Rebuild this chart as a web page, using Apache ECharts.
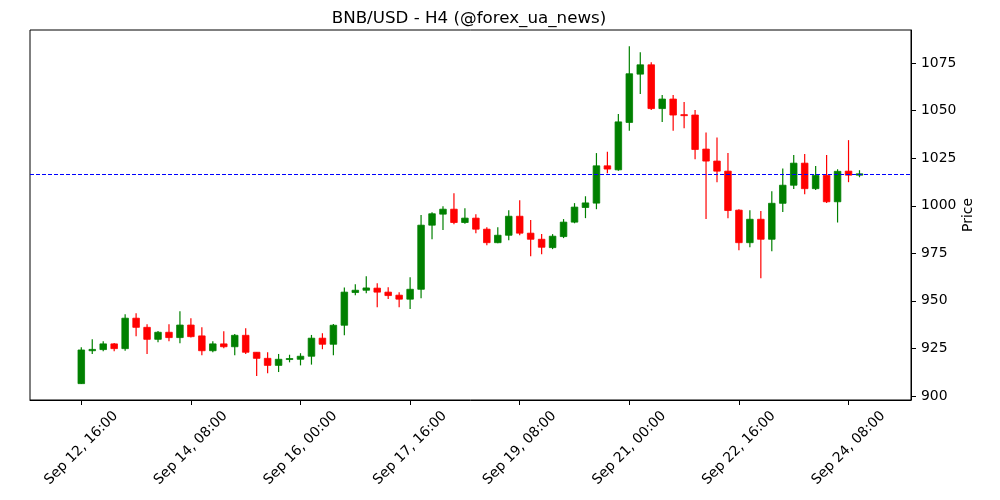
<!DOCTYPE html>
<html>
<head>
<meta charset="utf-8">
<script src="https://cdn.jsdelivr.net/npm/echarts@6/dist/echarts.min.js"></script>
<style>html,body{margin:0;padding:0;background:#fff}#c{width:1000px;height:500px}</style>
</head>
<body>
<div id="c"></div>
<script>
// candle index 0 = Sep 12 16:00, step 4h
const openP  = [906.5,923.8,924.4,927.4,924.9,940.9,936.1,929.8,933.5,930.7,937.3,931.6,923.8,927.4,925.9,931.9,923.0,919.8,916.1,919.3,919.3,920.9,930.4,927.2,937.2,954.4,955.6,956.7,954.6,953.0,950.9,956.1,989.8,995.6,998.2,991.2,993.5,987.7,980.6,984.5,994.5,985.6,982.4,978.0,983.8,991.4,999.1,1001.4,1021.0,1018.9,1043.8,1069.2,1074.1,1051.1,1056.1,1047.9,1047.7,1029.8,1023.5,1018.2,997.7,980.6,992.9,982.4,1001.3,1010.8,1022.4,1009.0,1016.0,1002.1,1018.2,1016.1];
const highP  = [925.6,929.8,928.8,927.9,943.0,943.5,937.7,934.2,937.7,944.6,940.9,936.1,928.8,934.0,932.6,935.6,923.0,923.0,922.1,921.7,922.5,932.1,933.0,937.9,957.0,958.8,963.0,959.3,957.2,954.6,962.4,995.1,996.6,999.8,1006.6,998.7,995.6,988.7,988.7,997.7,1002.9,992.5,985.1,985.1,993.0,1001.4,1005.0,1027.7,1028.4,1048.3,1083.9,1080.7,1075.5,1058.2,1058.2,1054.6,1050.3,1038.5,1035.9,1027.7,998.2,997.7,997.2,1007.7,1019.6,1026.7,1027.2,1020.9,1026.7,1019.2,1034.5,1018.7];
const lowP   = [906.3,922.1,923.5,923.5,923.8,931.4,922.1,928.2,928.8,927.7,930.7,921.4,923.0,925.1,921.4,922.1,910.5,911.9,912.6,917.7,916.1,916.5,924.6,921.4,931.9,953.0,954.0,946.7,951.0,946.7,945.8,951.4,982.4,987.2,990.3,990.6,985.6,979.3,980.3,981.9,984.5,973.5,974.5,977.2,983.0,990.8,993.5,998.2,1017.1,1018.4,1039.4,1058.8,1050.3,1044.0,1039.4,1040.8,1024.5,993.0,1012.4,993.5,976.6,978.2,961.9,976.1,996.7,1008.8,1006.1,1008.3,1001.4,991.2,1012.4,1015.0];
const closeP = [924.2,924.5,927.4,924.9,940.9,936.1,929.8,933.5,930.7,937.3,931.2,923.8,927.4,925.9,931.9,923.0,919.8,916.1,919.3,919.7,920.9,930.4,927.2,937.2,954.6,955.6,956.8,954.6,952.8,950.9,956.1,989.8,995.8,998.2,991.2,993.5,987.7,980.6,984.5,994.5,985.6,982.4,978.2,984.0,991.4,999.3,1001.5,1021.0,1019.3,1044.1,1069.4,1074.1,1051.1,1056.1,1047.7,1047.5,1029.6,1023.5,1018.2,997.5,980.6,992.9,982.4,1001.3,1010.8,1022.4,1009.0,1016.0,1002.1,1018.1,1016.1,1016.8];
const xTickIdx = [0,10,20,30,40,50,60,70];
const xTickLabels = ['Sep 12, 16:00','Sep 14, 08:00','Sep 16, 00:00','Sep 17, 16:00','Sep 19, 08:00','Sep 21, 00:00','Sep 22, 16:00','Sep 24, 08:00'];
const yTicks = [900,925,950,975,1000,1025,1050,1075];
const currentPrice = 1016.8;

const data = openP.map((o,i)=>[i,o,highP[i],lowP[i],closeP[i]]);
const FONT = 'DejaVu Sans';
const chart = echarts.init(document.getElementById('c'), null, {renderer:'canvas'});
chart.setOption({
  animation:false,
  backgroundColor:'#fff',
  title:{text:'BNB/USD - H4 (@forex_ua_news)',left:464,top:5,textAlign:'center',
    textStyle:{fontFamily:FONT,fontSize:16.7,fontWeight:'normal',color:'#000'}},
  grid:{left:30,right:89,top:30,bottom:100,show:true,borderColor:'#000',borderWidth:1,backgroundColor:'transparent'},
  xAxis:{type:'value',min:-4.68,max:75.7,
    axisLine:{show:true,onZero:false,lineStyle:{color:'#000'}},
    axisTick:{show:true,length:5,customValues:xTickIdx,lineStyle:{color:'#000'}},
    axisLabel:{customValues:xTickIdx,rotate:45,align:'center',verticalAlign:'middle',margin:48,
      fontFamily:FONT,fontSize:13.9,color:'#000',
      formatter:v=>{const k=xTickIdx.indexOf(Math.round(v));return k>=0?xTickLabels[k]:'';}},
    splitLine:{show:false}},
  yAxis:{type:'value',position:'right',min:897.9,max:1092.4,scale:true,
    name:'Price',nameLocation:'middle',nameGap:50,nameRotate:90,nameMoveOverlap:false,
    nameTextStyle:{fontFamily:FONT,fontSize:13.9,color:'#000'},
    axisLine:{show:true,onZero:false,lineStyle:{color:'#000'}},
    axisTick:{show:true,length:5,customValues:yTicks,lineStyle:{color:'#000'}},
    axisLabel:{customValues:yTicks,margin:10,fontFamily:FONT,fontSize:13.9,color:'#000',formatter:v=>String(Math.round(v))},
    splitLine:{show:false}},
  series:[{
    type:'custom',
    data:data,
    encode:{x:0,y:[1,2,3,4]},
    renderItem:function(params,api){
      const i=api.value(0),o=api.value(1),h=api.value(2),l=api.value(3),c=api.value(4);
      const col = c>=o ? '#008000' : '#ff0000';
      const pH=api.coord([i,h]), pL=api.coord([i,l]);
      const pO=api.coord([i,o]), pC=api.coord([i,c]);
      const w=api.size([0.6,0])[0];
      const top=Math.min(pO[1],pC[1]), bot=Math.max(pO[1],pC[1]);
      return {type:'group',children:[
        {type:'line',shape:{x1:pH[0],y1:pH[1],x2:pL[0],y2:pL[1]},style:{stroke:col,lineWidth:1.2}},
        {type:'rect',shape:{x:pO[0]-w/2,y:top,width:w,height:Math.max(bot-top,1)},style:{fill:col,stroke:col,lineWidth:0.8}}
      ]};
    },
    markLine:{silent:true,symbol:['none','none'],label:{show:false},
      lineStyle:{color:'#0000ff',type:[4,2],width:1},
      data:[{yAxis:currentPrice}]}
  }]
});
</script>
</body>
</html>
